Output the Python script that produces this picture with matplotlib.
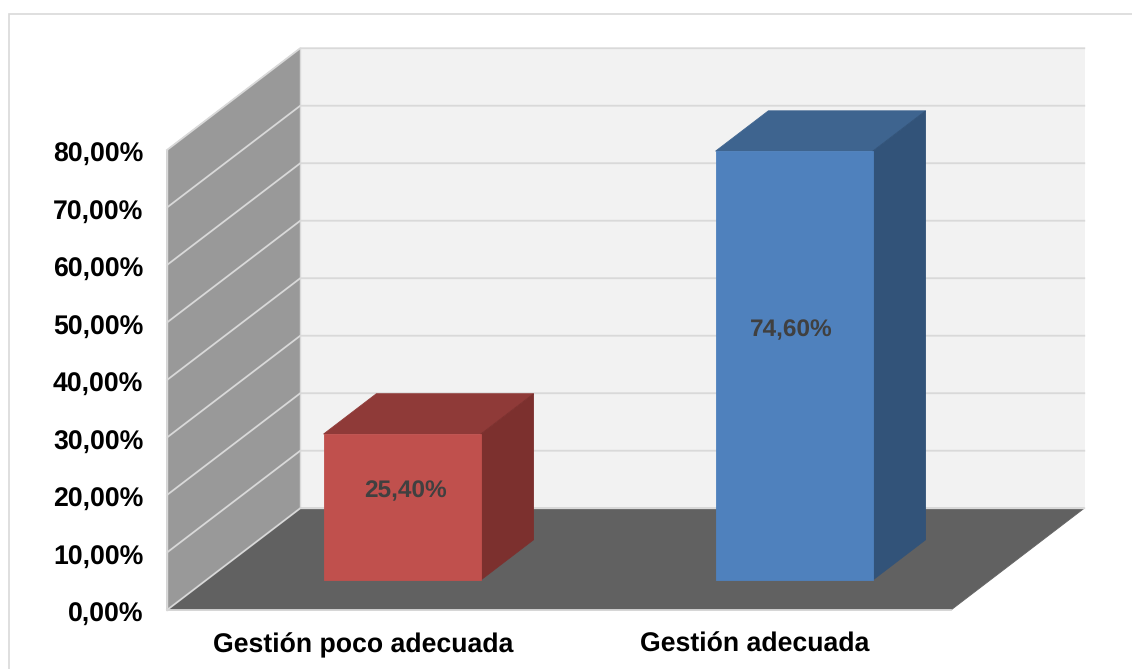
import matplotlib
matplotlib.use("Agg")
import matplotlib.pyplot as plt
from matplotlib.lines import Line2D
from matplotlib.patches import Polygon
from matplotlib.transforms import ScaledTranslation

categories = ["Gestión poco adecuada", "Gestión adecuada"]
values = [25.40, 74.60]
value_labels = ["25,40%", "74,60%"]
y_ticks = [0, 10, 20, 30, 40, 50, 60, 70, 80]
y_tick_labels = ["0,00%", "10,00%", "20,00%", "30,00%", "40,00%", "50,00%", "60,00%", "70,00%", "80,00%"]

front_colors = ["#c0504d", "#4f81bd"]
top_colors = ["#8f3a38", "#3e648f"]
side_colors = ["#7c302e", "#325379"]

plt.rcParams["font.family"] = ["Liberation Sans", "DejaVu Sans"]
plt.rcParams["text.hinting"] = "no_hinting"

# chart is oblique: depth d (0 to 1) shifts a point right and up
DEPTH_X = 0.34
DEPTH_Y = 17.7
BAR_WIDTH = 0.401
BAR_D0 = 0.294
BAR_D1 = 0.69


def proj(x, y, d=0.0):
    return (x + d * DEPTH_X, y + d * DEPTH_Y)


def face(ax, pts, color, z):
    ax.add_patch(Polygon([proj(*p) for p in pts], closed=True, facecolor=color,
                         edgecolor=color, linewidth=0.6, zorder=z, clip_on=False))


W, H = 1132, 669
fig = plt.figure(figsize=(W / 100, H / 100), dpi=100)

# outer frame only shows on the top and left
fig.add_artist(Line2D([8.5 / W, 8.5 / W, 1], [0, 1 - 13.5 / H, 1 - 13.5 / H],
                      color="#d9d9d9", linewidth=1.2, solid_joinstyle="miter"))

ax = fig.add_axes([167 / W, (H - 610) / H, 784 / W, 460 / H])
ax.patch.set_visible(False)
ax.set_xlim(-0.5, 1.5)
ax.set_ylim(0, 80)
for s in ax.spines.values():
    s.set_visible(False)

x0, x1 = ax.get_xlim()
y_top = y_ticks[-1]

# walls and floor
face(ax, [(x0, 0, 1), (x1, 0, 1), (x1, y_top, 1), (x0, y_top, 1)], "#f2f2f2", 1)
face(ax, [(x0, 0, 0), (x0, 0, 1), (x0, y_top, 1), (x0, y_top, 0)], "#999999", 1)
face(ax, [(x0, 0, 0), (x1, 0, 0), (x1, 0, 1), (x0, 0, 1)], "#616161", 2)

for t in y_ticks:
    xs, ys = zip(proj(x0, t, 0), proj(x0, t, 1), proj(x1, t, 1))
    ax.plot(xs, ys, color="#d9d9d9", linewidth=1.3, zorder=1.5 if t else 2.5,
            clip_on=False, solid_joinstyle="miter")
xs, ys = zip(proj(x0, 0, 0), proj(x1, 0, 0))
ax.plot(xs, ys, color="#d9d9d9", linewidth=1.3, zorder=2.5, clip_on=False)
xs, ys = zip(proj(x0, 0, 0), proj(x0, y_top, 0))
ax.plot(xs, ys, color="#d9d9d9", linewidth=1.0, zorder=1.5, clip_on=False)
xs, ys = zip(proj(x0, 0, 1), proj(x0, y_top, 1))
ax.plot(xs, ys, color="#d9d9d9", linewidth=1.0, zorder=1.5, clip_on=False)

for i, v in enumerate(values):
    l, r = i - BAR_WIDTH / 2, i + BAR_WIDTH / 2
    face(ax, [(l, v, BAR_D0), (r, v, BAR_D0), (r, v, BAR_D1), (l, v, BAR_D1)], top_colors[i], 3)
    face(ax, [(r, 0, BAR_D0), (r, 0, BAR_D1), (r, v, BAR_D1), (r, v, BAR_D0)], side_colors[i], 3)
    face(ax, [(l, 0, BAR_D0), (r, 0, BAR_D0), (r, v, BAR_D0), (l, v, BAR_D0)], front_colors[i], 4)
    # labels sit a bit above the middle of the front face
    lx, ly = proj(i + (0.5 - i) * 0.015, 0.571 * v + 0.95, BAR_D0)
    ax.text(lx, ly, value_labels[i], ha="center", va="center", fontsize=17.6,
            fontweight="bold", color="#404040", zorder=5)

ax.set_xticks(range(len(categories)))
ax.set_xticklabels(categories, fontsize=19.2, fontweight="bold", color="black")
ax.set_yticks(y_ticks)
ax.set_yticklabels(y_tick_labels, fontsize=19.2, fontweight="bold", color="black")
ax.tick_params(length=0, axis="y", pad=17)
ax.tick_params(length=0, axis="x", pad=16)

nudge = ScaledTranslation(0, -1.5 / 72, fig.dpi_scale_trans)
for lab in ax.get_yticklabels():
    lab.set_transform(lab.get_transform() + nudge)

fig.savefig("out.png", dpi=100)
